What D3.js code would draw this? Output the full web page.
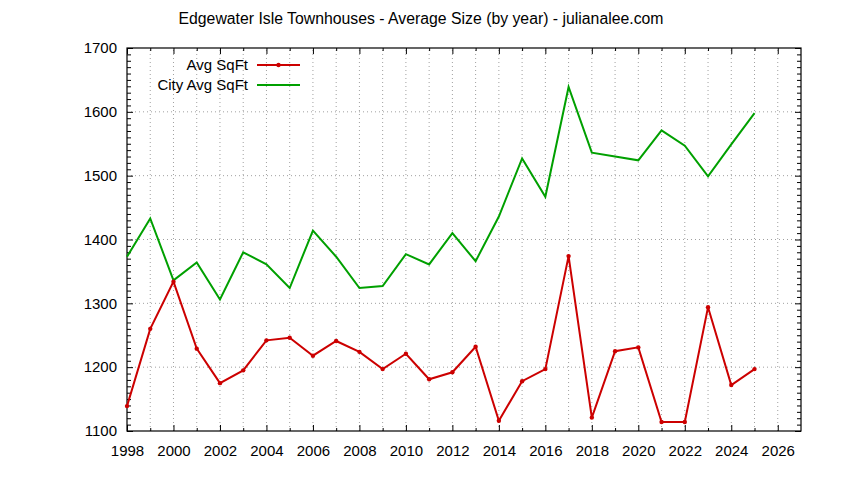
<!DOCTYPE html>
<html>
<head>
<meta charset="utf-8">
<script src="https://cdn.jsdelivr.net/npm/d3@7"></script>
<style>
  body { margin: 0; background: #fff; }
  text { font-family: "Liberation Sans", Arial, sans-serif; fill: #000; }
</style>
</head>
<body>
<div id="chart"></div>
<script>
const years = [1998, 1999, 2000, 2001, 2002, 2003, 2004, 2005, 2006, 2007, 2008, 2009, 2010, 2011,
  2012, 2013, 2014, 2015, 2016, 2017, 2018, 2019, 2020, 2021, 2022, 2023, 2024, 2025];
const avgSqft = [1139, 1260, 1334, 1229, 1175, 1195, 1242, 1246, 1218, 1241, 1224, 1197, 1221, 1181,
  1192, 1232, 1116, 1178, 1197, 1374, 1121, 1225, 1231, 1114, 1114, 1294, 1172, 1197];
const cityAvgSqft = [1373, 1433, 1336, 1364, 1306, 1380, 1361, 1324, 1414, 1373, 1324, 1327, 1377, 1361,
  1410, 1366, 1436, 1527, 1467, 1639, 1536, 1530, 1524, 1571, 1547, 1499, 1549, 1598];
const xMajorTicks = [1998, 2000, 2002, 2004, 2006, 2008, 2010, 2012, 2014, 2016, 2018, 2020, 2022, 2024, 2026];
const yMajorTicks = [1100, 1200, 1300, 1400, 1500, 1600, 1700];

const width = 844,
  height = 480;
const margin = { top: 48, right: 43, bottom: 49, left: 127 };

const x = d3.scaleLinear().domain([1998, 2027]).range([margin.left, width - margin.right]);
const y = d3.scaleLinear().domain([1100, 1700]).range([height - margin.bottom, margin.top]);

const red = "#cc0000",
  green = "#00a000";
const fontSize = 15;

const svg = d3.select("#chart").append("svg").attr("width", width).attr("height", height);

// Title
svg
  .append("text")
  .attr("x", 421)
  .attr("y", 24)
  .attr("text-anchor", "middle")
  .attr("font-size", 15.8)
  .text("Edgewater Isle Townhouses - Average Size (by year) - julianalee.com");

// Grid
const allYears = d3.range(1999, 2027);
svg
  .append("g")
  .selectAll("line")
  .data(allYears)
  .join("line")
  .attr("x1", (d) => x(d))
  .attr("x2", (d) => x(d))
  .attr("y1", y(1100))
  .attr("y2", y(1700))
  .attr("stroke", "#a0a0a0")
  .attr("stroke-dasharray", "1,3");

svg
  .append("g")
  .selectAll("line")
  .data(yMajorTicks.slice(1, -1))
  .join("line")
  .attr("x1", x(1998))
  .attr("x2", x(2027))
  .attr("y1", (d) => y(d))
  .attr("y2", (d) => y(d))
  .attr("stroke", "#a0a0a0")
  .attr("stroke-dasharray", "1,3");

// Axes (ticks inward, mirrored on top and right)
const yMinor = d3.range(1100, 1701, 10).filter((d) => d % 100 !== 0);
const xMinor = d3.range(1999, 2027, 2);

function styleAxis(g) {
  g.select(".domain").remove();
  g.attr("font-size", fontSize).attr("font-family", null);
}

svg
  .append("g")
  .attr("transform", `translate(0,${y(1100)})`)
  .call(d3.axisBottom(x).tickValues(xMajorTicks).tickFormat(d3.format("d")).tickSize(-6).tickPadding(14))
  .call(styleAxis);
svg
  .append("g")
  .attr("transform", `translate(0,${y(1100)})`)
  .call(d3.axisBottom(x).tickValues(xMinor).tickFormat("").tickSize(-3))
  .call(styleAxis);
svg
  .append("g")
  .attr("transform", `translate(0,${y(1700)})`)
  .call(d3.axisTop(x).tickValues(xMajorTicks).tickFormat("").tickSize(-6))
  .call(styleAxis);
svg
  .append("g")
  .attr("transform", `translate(0,${y(1700)})`)
  .call(d3.axisTop(x).tickValues(xMinor).tickFormat("").tickSize(-3))
  .call(styleAxis);

svg
  .append("g")
  .attr("transform", `translate(${x(1998)},0)`)
  .call(d3.axisLeft(y).tickValues(yMajorTicks).tickFormat(d3.format("d")).tickSize(-6).tickPadding(10))
  .call(styleAxis);
svg
  .append("g")
  .attr("transform", `translate(${x(1998)},0)`)
  .call(d3.axisLeft(y).tickValues(yMinor).tickFormat("").tickSize(-4))
  .call(styleAxis);
svg
  .append("g")
  .attr("transform", `translate(${x(2027)},0)`)
  .call(d3.axisRight(y).tickValues(yMajorTicks).tickFormat("").tickSize(-6))
  .call(styleAxis);
svg
  .append("g")
  .attr("transform", `translate(${x(2027)},0)`)
  .call(d3.axisRight(y).tickValues(yMinor).tickFormat("").tickSize(-4))
  .call(styleAxis);

// Border
svg
  .append("rect")
  .attr("x", x(1998))
  .attr("y", y(1700))
  .attr("width", x(2027) - x(1998))
  .attr("height", y(1100) - y(1700))
  .attr("fill", "none")
  .attr("stroke", "#000")
  .attr("stroke-width", 1.2);

// Lines
const line = d3
  .line()
  .x((d) => x(d[0]))
  .y((d) => y(d[1]));

svg
  .append("path")
  .datum(d3.zip(years, cityAvgSqft))
  .attr("fill", "none")
  .attr("stroke", green)
  .attr("stroke-width", 2)
  .attr("d", line);

const avgData = d3.zip(years, avgSqft);
svg
  .append("path")
  .datum(avgData)
  .attr("fill", "none")
  .attr("stroke", red)
  .attr("stroke-width", 2)
  .attr("d", line);

svg
  .append("g")
  .selectAll("circle")
  .data(avgData)
  .join("circle")
  .attr("cx", (d) => x(d[0]))
  .attr("cy", (d) => y(d[1]))
  .attr("r", 2.2)
  .attr("fill", red);

// Legend
const legendItems = [
  { label: "Avg SqFt", color: red, point: true },
  { label: "City Avg SqFt", color: green, point: false },
];
const legend = svg
  .append("g")
  .selectAll("g")
  .data(legendItems)
  .join("g")
  .attr("transform", (d, i) => `translate(0,${65 + i * 20})`);

legend
  .append("text")
  .attr("x", 248)
  .attr("dy", "0.35em")
  .attr("text-anchor", "end")
  .attr("font-size", fontSize)
  .text((d) => d.label);

legend
  .append("line")
  .attr("x1", 257)
  .attr("x2", 300)
  .attr("stroke", (d) => d.color)
  .attr("stroke-width", 2);

legend
  .filter((d) => d.point)
  .append("circle")
  .attr("cx", 278.5)
  .attr("r", 2.2)
  .attr("fill", (d) => d.color);
</script>
</body>
</html>
